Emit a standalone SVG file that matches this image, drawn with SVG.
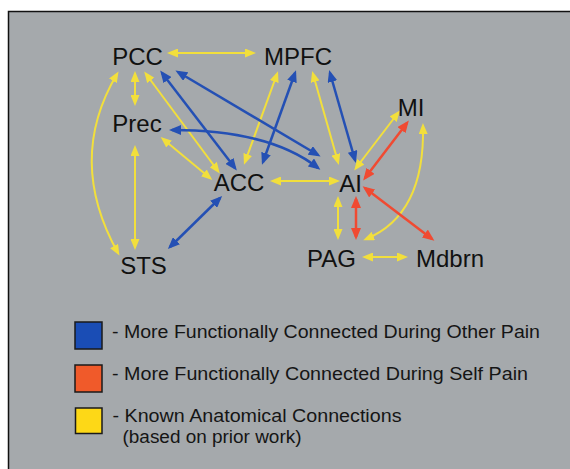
<svg xmlns="http://www.w3.org/2000/svg" width="570" height="469" viewBox="0 0 570 469">
  <defs>
    <style>
      .node { font-family: "Liberation Sans", Arial, sans-serif; font-size: 24px; fill: #111; text-anchor: middle; }
      .leg { font-family: "Liberation Sans", Arial, sans-serif; font-size: 17.5px; fill: #151515; }
      .y { stroke: #f2df3c; stroke-width: 2; fill: none; marker-start: url(#aY); marker-end: url(#aY); }
      .b { stroke: #2450b4; stroke-width: 2.5; fill: none; marker-start: url(#aB); marker-end: url(#aB); }
      .r { stroke: #f04a32; stroke-width: 2.5; fill: none; marker-start: url(#aR); marker-end: url(#aR); }
      .sq { stroke: #1a1a1a; stroke-width: 1.5; }
    </style>
    <marker id="aY" viewBox="0 0 11 9" refX="8" refY="4.5" markerWidth="11" markerHeight="9" markerUnits="userSpaceOnUse" orient="auto-start-reverse">
      <path d="M0,0 L11,4.5 L0,9 z" fill="#f2df3c"/>
    </marker>
    <marker id="aB" viewBox="0 0 12 10" refX="9" refY="5" markerWidth="12" markerHeight="10" markerUnits="userSpaceOnUse" orient="auto-start-reverse">
      <path d="M0,0 L12,5 L0,10 z" fill="#2450b4"/>
    </marker>
    <marker id="aR" viewBox="0 0 12 10" refX="9" refY="5" markerWidth="12" markerHeight="10" markerUnits="userSpaceOnUse" orient="auto-start-reverse">
      <path d="M0,0 L12,5 L0,10 z" fill="#f04a32"/>
    </marker>
  </defs>

  <rect x="0" y="0" width="570" height="469" fill="#ffffff"/>
  <rect x="8.5" y="11.5" width="570" height="469" fill="#a5a9ac" stroke="#111" stroke-width="1.5"/>

  <g id="connectors">
    <!-- yellow -->
    <line class="y" x1="170" y1="53" x2="253" y2="53"/>
    <line class="y" x1="135" y1="74" x2="135" y2="103"/>
    <path class="y" d="M117,74 Q66,160 118,253"/>
    <line class="y" x1="135" y1="148" x2="135" y2="247"/>
    <line class="y" x1="146" y1="74" x2="218" y2="171"/>
    <line class="y" x1="163" y1="139" x2="210" y2="178"/>
    <line class="y" x1="277" y1="74" x2="245" y2="162"/>
    <line class="y" x1="313" y1="74" x2="338" y2="162"/>
    <line class="y" x1="273" y1="181" x2="337" y2="181"/>
    <line class="y" x1="356" y1="168" x2="398" y2="113"/>
    <path class="y" d="M423,126 Q425,215 366,239"/>
    <line class="y" x1="338" y1="199" x2="338" y2="237"/>
    <line class="y" x1="365" y1="257" x2="405" y2="257"/>
    <!-- blue -->
    <line class="b" x1="162" y1="73" x2="235" y2="168"/>
    <line class="b" x1="178" y1="72" x2="318" y2="155"/>
    <path class="b" d="M172,130 Q270,130 318,168"/>
    <line class="b" x1="295" y1="73" x2="263" y2="162"/>
    <line class="b" x1="330" y1="73" x2="355" y2="160"/>
    <line class="b" x1="170" y1="247" x2="220" y2="198"/>
    <!-- red -->
    <line class="r" x1="365" y1="178" x2="407" y2="123"/>
    <line class="r" x1="356" y1="199" x2="356" y2="237"/>
    <line class="r" x1="365" y1="188" x2="432" y2="239"/>
  </g>

  <g id="node-PCC"><text class="node" x="137.5" y="65">PCC</text></g>
  <g id="node-MPFC"><text class="node" x="298" y="65">MPFC</text></g>
  <g id="node-Prec"><text class="node" x="137" y="132">Prec</text></g>
  <g id="node-ACC"><text class="node" x="239" y="191">ACC</text></g>
  <g id="node-AI"><text class="node" x="350.5" y="192">AI</text></g>
  <g id="node-MI"><text class="node" x="411" y="116">MI</text></g>
  <g id="node-PAG"><text class="node" x="331.5" y="267">PAG</text></g>
  <g id="node-Mdbrn"><text class="node" x="450" y="267">Mdbrn</text></g>
  <g id="node-STS"><text class="node" x="143.5" y="274">STS</text></g>

  <g id="legend">
    <rect class="sq" x="75" y="322" width="27" height="27" fill="#1a4db5"/>
    <rect class="sq" x="75" y="365" width="27" height="27" fill="#f05a2a"/>
    <rect class="sq" x="75.5" y="408" width="26.5" height="25.5" fill="#fdd817"/>
    <text class="leg" x="112" y="338" textLength="428" lengthAdjust="spacingAndGlyphs">- More Functionally Connected During Other Pain</text>
    <text class="leg" x="112" y="380" textLength="416" lengthAdjust="spacingAndGlyphs">-  More Functionally Connected During Self Pain</text>
    <text class="leg" x="112.5" y="422" textLength="289" lengthAdjust="spacingAndGlyphs">- Known Anatomical Connections</text>
    <text class="leg" x="122.5" y="443" textLength="179" lengthAdjust="spacingAndGlyphs">(based on prior work)</text>
  </g>
</svg>
